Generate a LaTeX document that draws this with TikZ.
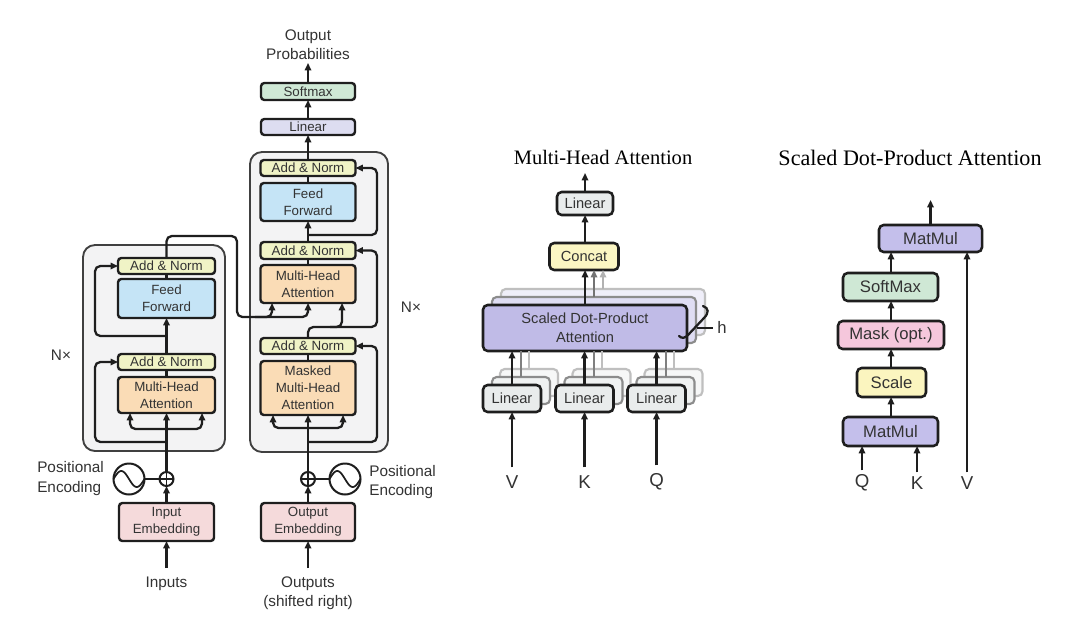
\documentclass[tikz,border=0pt]{standalone}
\usepackage{fontspec}
\setmainfont{Liberation Sans}
\newfontfamily\titlefont{Liberation Serif}
\usetikzlibrary{arrows.meta,calc}
\definecolor{anc}{HTML}{F0F3C6}
\definecolor{ffc}{HTML}{C5E4F6}
\definecolor{mhc}{HTML}{FADCB6}
\definecolor{embc}{HTML}{F5DADB}
\definecolor{linc}{HTML}{DDDDF1}
\definecolor{smc}{HTML}{CFE8D5}
\definecolor{outerc}{HTML}{F3F3F4}
\definecolor{lgc}{HTML}{E9ECEC}
\definecolor{concatc}{HTML}{FBF6C3}
\definecolor{sdpc}{HTML}{C0BBE7}
\definecolor{mmc}{HTML}{C4BFEB}
\definecolor{maskc}{HTML}{F5C7DC}
\definecolor{scalec}{HTML}{FBF5BF}
\definecolor{txt}{HTML}{333333}
\definecolor{bord}{HTML}{1E1E1E}
\begin{document}
\begin{tikzpicture}[x=0.75pt,y=-0.75pt,
  wh/.style 2 args={minimum width=#1*0.75pt,minimum height=#2*0.75pt},
  blk/.style={draw=bord,line width=1.8pt,rounded corners=2.5pt,inner sep=0pt,outer sep=0pt,align=center,text=txt,font=\fontsize{10}{12.7}\selectfont},
  mbx/.style={draw=bord,line width=1.9pt,rounded corners=3.5pt,inner sep=0pt,outer sep=0pt,align=center,text=txt,font=\fontsize{11}{14}\selectfont},
  sbx/.style={draw=bord,line width=1.9pt,rounded corners=3.5pt,inner sep=0pt,outer sep=0pt,align=center,text=txt,font=\fontsize{12.5}{15}\selectfont},
  outer/.style={draw=black!75,fill=outerc,line width=1.4pt,rounded corners=9pt,inner sep=0pt},
  lbl/.style={text=txt,font=\fontsize{11.5}{14.3}\selectfont,inner sep=0pt},
  qkv/.style={text=txt,font=\fontsize{14}{16}\selectfont,inner sep=0pt},
  ttl/.style={text=black,inner sep=0pt},
  ln/.style={line width=1.7pt,draw=bord},
  arr/.style={line width=1.7pt,draw=bord,-{Triangle[length=5.5pt,width=4.8pt]}},
  rc/.style={rounded corners=4pt},
  circ/.style={circle,draw=bord,line width=1.5pt,inner sep=0pt,outer sep=0pt}
]
\useasboundingbox[fill=white] (0,0) rectangle (1080,642);

% ================= ENCODER =================
\node[outer,wh={142}{206}] (ebox) at (154,348) {};
\node[blk,wh={97}{36},fill=mhc] (eMHA) at (166.5,395) {Multi-Head\\Attention};
\node[blk,wh={97}{16},fill=anc] (eAN1) at (166.5,362) {Add \& Norm};
\node[blk,wh={97}{39},fill=ffc] (eFF) at (166.5,298.5) {Feed\\Forward};
\node[blk,wh={97}{16},fill=anc] (eAN2) at (166.5,266) {Add \& Norm};
\node[blk,wh={95}{38},fill=embc] (iemb) at (166.5,522) {Input\\Embedding};
\node[circ,minimum size=14*0.75pt] (eplus) at (166.5,479) {};
\draw[line width=1.2pt,draw=bord] (eplus.north) -- (eplus.south) (eplus.west) -- (eplus.east);
\node[circ,minimum size=31*0.75pt] (esine) at (129,479) {};
\draw[line width=1.3pt,draw=bord] plot[domain=-1:1,samples=40] ({129+15.5*\x},{479+8*sin(180*\x)});
\node[lbl,align=left,anchor=west] (epos) at (37,478.5) {Positional\\Encoding};
\node[lbl] (inputs) at (166.5,584) {Inputs};
\coordinate (inTail) at (166.5,568);
\node[lbl] (eN) at (61,355) {N×};

\draw[arr] (inTail) -- (iemb.south);
\draw[arr] (iemb.north) -- (eplus.south);
\draw[ln] (esine.east) -- (eplus.west);
\draw[arr] (eplus.north) -- (eMHA.south);
\draw[arr,rc] (166.5,429) -| ($(eMHA.south)+(-36.5,0)$);
\draw[arr,rc] (166.5,429) -| ($(eMHA.south)+(35.5,0)$);
\draw[arr,rc] (166.5,442) -| (95,362) -- (eAN1.west);
\draw[ln] (eMHA.north) -- (eAN1.south);
\draw[arr] (eAN1.north) -- (eFF.south);
\draw[arr,rc] (166.5,336) -| (95,266) -- (eAN2.west);
\draw[ln] (eFF.north) -- (eAN2.south);

% ================= DECODER =================
\node[outer,wh={138}{300}] (dbox) at (319,302) {};
\node[blk,wh={95}{54},fill=mhc] (dMMHA) at (308,388) {Masked\\Multi-Head\\Attention};
\node[blk,wh={95}{16},fill=anc] (dAN1) at (308,346) {Add \& Norm};
\node[blk,wh={95}{38},fill=mhc] (dMHA) at (308,284) {Multi-Head\\Attention};
\node[blk,wh={95}{17},fill=anc] (dAN2) at (308,250.5) {Add \& Norm};
\node[blk,wh={95}{38},fill=ffc] (dFF) at (308,202) {Feed\\Forward};
\node[blk,wh={95}{16},fill=anc] (dAN3) at (308,168) {Add \& Norm};
\node[blk,wh={94}{16},fill=linc] (dlin) at (308,127) {Linear};
\node[blk,wh={94}{17},fill=smc] (dsoft) at (308,91.5) {Softmax};
\node[lbl,align=center] (oprob) at (308,45) {Output\\Probabilities};
\coordinate (oTip) at (308,63);
\node[blk,wh={94}{38},fill=embc] (oemb) at (308,522) {Output\\Embedding};
\node[circ,minimum size=14*0.75pt] (dplus) at (308,479) {};
\draw[line width=1.2pt,draw=bord] (dplus.north) -- (dplus.south) (dplus.west) -- (dplus.east);
\node[circ,minimum size=31*0.75pt] (dsine) at (345,479) {};
\draw[line width=1.3pt,draw=bord] plot[domain=-1:1,samples=40] ({345+15.5*\x},{479+8*sin(180*\x)});
\node[lbl,align=left,anchor=west] (dpos) at (369,482) {Positional\\Encoding};
\node[lbl,align=center] (outputs) at (308,593.5) {Outputs\\(shifted right)};
\coordinate (outTail) at (308,568);
\node[lbl] (dN) at (411,307) {N×};

\draw[arr] (outTail) -- (oemb.south);
\draw[arr] (oemb.north) -- (dplus.south);
\draw[ln] (dplus.east) -- (dsine.west);
\draw[arr] (dplus.north) -- (dMMHA.south);
\draw[arr,rc] (308,428) -| ($(dMMHA.south)+(-35,0)$);
\draw[arr,rc] (308,428) -| ($(dMMHA.south)+(35,0)$);
\draw[arr,rc] (308,442) -| (377,346) -- (dAN1.east);
\draw[ln] (dMMHA.north) -- (dAN1.south);
\draw[arr,rc] (dAN1.north) |- (342,327) -- ($(dMHA.south)+(34,0)$);
\draw[arr,rc] (330,327) -| (377,250.5) -- (dAN2.east);
\draw[ln] (dMHA.north) -- (dAN2.south);
\draw[arr] (dAN2.north) -- (dFF.south);
\draw[arr,rc] (308,235) -| (377,168) -- (dAN3.east);
\draw[ln] (dFF.north) -- (dAN3.south);
\draw[arr] (dAN3.north) -- (dlin.south);
\draw[arr] (dlin.north) -- (dsoft.south);
\draw[arr] (dsoft.north) -- (oTip);

% encoder output into decoder
\draw[arr,rc] (eAN2.north) |- (237,236) |- (272,317) -- ($(dMHA.south)+(-36,0)$);
\draw[arr,rc] (255,317) -| (dMHA.south);

% ================= MULTI-HEAD ATTENTION =================
\node[ttl,font=\titlefont\fontsize{15.4}{18}\selectfont] (mhtitle) at (603,157) {Multi-Head Attention};
% back copies
\node[mbx,wh={204}{46},fill=sdpc!25,draw=black!25,line width=1.6pt] (sdpaB2) at (603,312) {};
\node[mbx,wh={204}{46},fill=sdpc!50,draw=black!45,line width=1.6pt] (sdpaB1) at (594,320) {};
\foreach \n/\cx in {V/512,K/584.5,Q/656.5}{
  \node[mbx,wh={58}{27},fill=lgc!40,draw=black!25,line width=1.6pt] (lin\n B2) at (\cx+17,382.5) {};
  \node[mbx,wh={58}{27},fill=lgc!70,draw=black!45,line width=1.6pt] (lin\n B1) at (\cx+9,390.5) {};
}
\node[mbx,wh={204}{46},fill=sdpc] (sdpa) at (585,328) {Scaled Dot-Product\\Attention};
\node[mbx,wh={58}{27},fill=lgc] (linV) at (512,398.5) {Linear};
\node[mbx,wh={58}{27},fill=lgc] (linK) at (584.5,398.5) {Linear};
\node[mbx,wh={58}{27},fill=lgc] (linQ) at (656.5,398.5) {Linear};
\node[mbx,wh={69}{27},fill=concatc] (concat) at (584,256.5) {Concat};
\node[mbx,wh={56}{23},fill=lgc] (mlin) at (585,203.5) {Linear};
\coordinate (mTip) at (585,173);
\node[qkv] (mV) at (512,482) {V};
\node[qkv] (mK) at (584.5,482) {K};
\node[qkv] (mQ) at (656.5,482) {Q};
\foreach \n in {V,K,Q}{
  \draw[line width=1.5pt,draw=black!25] (lin\n B2.north) -- (lin\n B2.north |- sdpa.south);
  \draw[line width=1.5pt,draw=black!50] (lin\n B1.north) -- (lin\n B1.north |- sdpa.south);
  \draw[arr] (lin\n.north) -- (lin\n.north |- sdpa.south);
  \draw[arr] ($(m\n.north)+(0,-8)$) -- (lin\n.south);
}
\draw[arr,draw=black!30] (sdpaB2.north) -- (sdpaB2.north |- concat.south);
\draw[arr,draw=black!55] (sdpaB1.north) -- (sdpaB1.north |- concat.south);
\draw[arr] (sdpa.north) -- (sdpa.north |- concat.south);
\draw[arr] (concat.north -| mlin.south) -- (mlin.south);
\draw[arr] (mlin.north) -- (mTip);
% h brace
\draw[line width=1.7pt,draw=bord,line cap=round] (703,306) .. controls (709,308) and (709,313) .. (704,318) -- (688,335) .. controls (685,338) and (682,339) .. (679,336);
\draw[line width=1.4pt,draw=bord] (697,328) -- (713,328);
\node[qkv,font=\fontsize{12.5}{14}\selectfont] (hlab) at (722,327) {h};

% ================= SCALED DOT-PRODUCT ATTENTION =================
\node[ttl,font=\titlefont\fontsize{16.6}{19}\selectfont] (sdtitle) at (910,158) {Scaled Dot-Product Attention};
\node[sbx,wh={103}{27},fill=mmc] (smm2) at (930.5,238.5) {MatMul};
\node[sbx,wh={95}{28},fill=smc] (ssoft) at (890.5,287) {SoftMax};
\node[sbx,wh={106}{28},fill=maskc] (smask) at (891,335) {Mask (opt.)};
\node[sbx,wh={69}{29},fill=scalec] (sscale) at (891.5,382.5) {Scale};
\node[sbx,wh={95}{29},fill=mmc] (smm1) at (890.5,431.5) {MatMul};
\coordinate (sTip) at (930.5,200);
\node[qkv] (sQ) at (862,483) {Q};
\node[qkv] (sK) at (917,483) {K};
\node[qkv] (sV) at (967,483) {V};
\draw[arr] (smm1.north -| 891,0) -- (sscale.south -| 891,0);
\draw[arr] (sscale.north -| 891,0) -- (smask.south -| 891,0);
\draw[arr] (smask.north -| 891,0) -- (ssoft.south -| 891,0);
\draw[arr] (ssoft.north -| 891,0) -- (smm2.south -| 891,0);
\draw[arr] (smm2.north) -- (sTip);
\draw[arr] ($(sQ.north)+(0,-4)$) -- (sQ.north |- smm1.south);
\draw[arr] ($(sK.north)+(0,-4)$) -- (sK.north |- smm1.south);
\draw[arr] ($(sV.north)+(0,-4)$) -- (sV.north |- smm2.south);
\end{tikzpicture}
\end{document}
